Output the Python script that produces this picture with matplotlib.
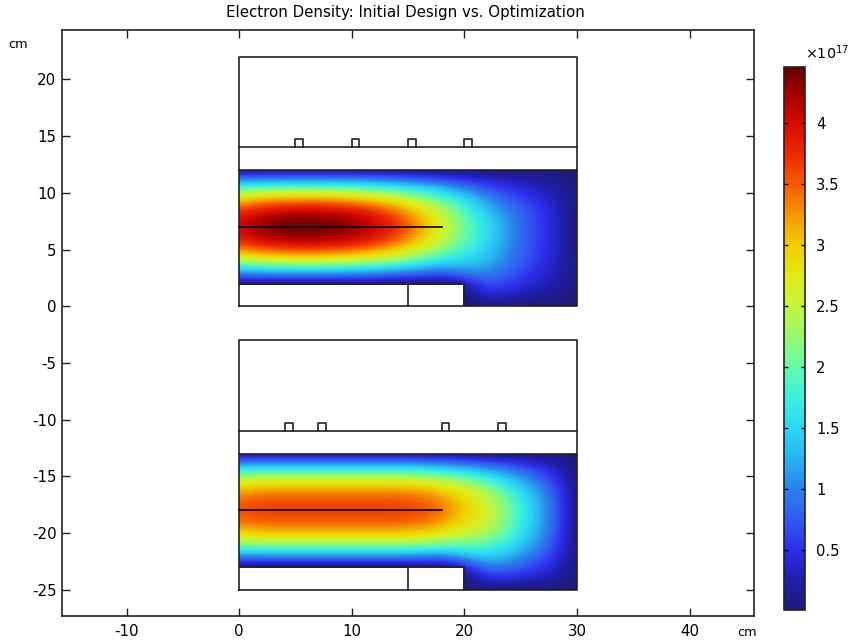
import numpy as np
import matplotlib
matplotlib.use("Agg")
import matplotlib.pyplot as plt
from matplotlib.colors import LinearSegmentedColormap, Normalize
from matplotlib.patches import Polygon

W, H = 852, 643

# tick labels
x_ticks = [-10, 0, 10, 20, 30, 40]
y_ticks = [-25, -20, -15, -10, -5, 0, 5, 10, 15, 20]
cbar_ticks = [0.5, 1, 1.5, 2, 2.5, 3, 3.5, 4]
cbar_labels = ['0.5', '1', '1.5', '2', '2.5', '3', '3.5', '4']

# colour scale
v_min, v_max = 0.008, 4.455
scale_vals = [0.008, 0.25, 0.5, 0.75, 1.0, 1.25, 1.5, 1.75, 2.0, 2.25, 2.5, 2.75,
              3.0, 3.25, 3.5, 3.75, 4.0, 4.25, 4.455]
scale_rgb = [(30, 25, 120), (30, 30, 170), (45, 45, 235), (50, 90, 240), (40, 130, 235),
             (40, 180, 240), (45, 215, 245), (60, 240, 220), (100, 250, 170), (150, 250, 110),
             (195, 245, 60), (225, 235, 20), (240, 205, 0), (245, 150, 0), (245, 90, 0),
             (235, 40, 0), (215, 10, 0), (160, 0, 0), (100, 0, 0)]

# density in 1e17, one row per x sample (0 to 30 cm, every 2 cm), from the top of the region down to the bottom
top_density = [
    [.03, 1.12, 2.38, 3.30, 3.86, 4.05, 3.86, 3.30, 2.38, 1.12, .03, .02, .02],
    [.03, 1.20, 2.55, 3.53, 4.13, 4.35, 4.13, 3.53, 2.55, 1.20, .03, .02, .02],
    [.03, 1.22, 2.60, 3.62, 4.26, 4.45, 4.26, 3.62, 2.60, 1.22, .03, .02, .02],
    [.03, 1.23, 2.62, 3.65, 4.28, 4.46, 4.28, 3.65, 2.62, 1.23, .03, .02, .02],
    [.03, 1.22, 2.60, 3.62, 4.26, 4.45, 4.26, 3.62, 2.60, 1.22, .03, .02, .02],
    [.03, 1.19, 2.52, 3.50, 4.13, 4.33, 4.13, 3.50, 2.52, 1.19, .03, .02, .02],
    [.03, 1.13, 2.38, 3.30, 3.92, 4.10, 3.92, 3.30, 2.38, 1.13, .03, .02, .02],
    [.03, 1.03, 2.18, 3.02, 3.58, 3.75, 3.58, 3.02, 2.18, 1.03, .03, .02, .02],
    [.02, .92, 1.90, 2.65, 3.10, 3.25, 3.10, 2.65, 1.90, .92, .02, .02, .02],
    [.02, .78, 1.60, 2.20, 2.55, 2.65, 2.55, 2.20, 1.60, .78, .02, .02, .02],
    [.02, .58, 1.25, 1.72, 1.97, 2.05, 2.00, 1.78, 1.48, 1.05, .20, .02, .02],
    [.02, .45, .85, 1.20, 1.45, 1.60, 1.55, 1.45, 1.30, 1.05, .78, .42, .02],
    [.02, .33, .62, .87, 1.00, 1.05, 1.05, 1.02, .95, .78, .58, .32, .02],
    [.02, .24, .43, .58, .66, .68, .68, .66, .60, .52, .40, .22, .02],
    [.02, .15, .27, .35, .39, .40, .40, .39, .35, .30, .24, .13, .02],
    [.02, .02, .02, .02, .02, .02, .02, .02, .02, .02, .02, .02, .02],
]
bottom_density = [
    [.03, 1.12, 2.24, 2.98, 3.42, 3.55, 3.42, 2.98, 2.24, 1.12, .03, .02, .02],
    [.03, 1.15, 2.30, 3.08, 3.52, 3.65, 3.52, 3.08, 2.30, 1.15, .03, .02, .02],
    [.03, 1.15, 2.30, 3.08, 3.52, 3.65, 3.52, 3.08, 2.30, 1.15, .03, .02, .02],
    [.03, 1.15, 2.30, 3.08, 3.52, 3.65, 3.52, 3.08, 2.30, 1.15, .03, .02, .02],
    [.03, 1.15, 2.30, 3.08, 3.52, 3.65, 3.52, 3.08, 2.30, 1.15, .03, .02, .02],
    [.03, 1.15, 2.30, 3.08, 3.52, 3.65, 3.52, 3.08, 2.30, 1.15, .03, .02, .02],
    [.03, 1.15, 2.30, 3.08, 3.52, 3.65, 3.52, 3.08, 2.30, 1.15, .03, .02, .02],
    [.03, 1.15, 2.30, 3.08, 3.52, 3.65, 3.52, 3.08, 2.30, 1.15, .03, .02, .02],
    [.03, 1.13, 2.27, 3.04, 3.47, 3.60, 3.47, 3.04, 2.27, 1.13, .03, .02, .02],
    [.03, 1.05, 2.10, 2.85, 3.27, 3.40, 3.27, 2.85, 2.10, 1.05, .02, .02, .02],
    [.02, .95, 1.90, 2.56, 2.90, 3.00, 2.90, 2.58, 2.08, 1.32, .40, .02, .02],
    [.02, .78, 1.58, 2.18, 2.55, 2.65, 2.60, 2.35, 2.00, 1.50, 1.00, .50, .02],
    [.02, .65, 1.25, 1.70, 1.97, 2.05, 2.03, 1.90, 1.65, 1.30, .90, .47, .02],
    [.02, .45, .88, 1.20, 1.40, 1.45, 1.44, 1.35, 1.18, .95, .65, .35, .02],
    [.02, .27, .50, .67, .76, .80, .80, .74, .66, .54, .38, .21, .02],
    [.02, .02, .02, .02, .02, .02, .02, .02, .02, .02, .02, .02, .02],
]

# geometry of each device, y measured from its own lower edge (cm)
panel_offsets = [0, -25]
top_slots = [5.33, 10.33, 15.33, 20.33]
bottom_slots = [4.45, 7.33, 18.33, 23.33]
line_end = 18

def draw_panel(ax, offset, density, slots, cmap, norm):
    """
    Draws one device: the density field clipped to the region and the outlines over it.
    """
    field = np.array(density).T
    region = Polygon([(0, offset + 2), (20, offset + 2), (20, offset), (30, offset),
                      (30, offset + 12), (0, offset + 12)],
                     closed=True, transform=ax.transData, fc='none', ec='none')
    ax.add_patch(region)
    im = ax.imshow(field, extent=(-1, 31, offset - 0.5, offset + 12.5), aspect='auto',
                   cmap=cmap, norm=norm, interpolation='bicubic', zorder=1)
    im.set_clip_path(region)

    # outlines
    c = '#222222'
    kw = dict(color=c, lw=1.2, solid_joinstyle='round', zorder=3)
    ax.plot([0, 30, 30, 20, 20, 0, 0], [offset + 12, offset + 12, offset, offset, offset + 2, offset + 2, offset + 12], **kw)
    ax.plot([0, 20, 20, 0, 0], [offset, offset, offset + 2, offset + 2, offset], **kw)
    ax.plot([15, 15], [offset, offset + 2], **kw)
    ax.plot([0, line_end], [offset + 7, offset + 7], color='black', lw=1.2, zorder=3)
    ax.plot([0, 30, 30, 0, 0], [offset + 14, offset + 14, offset + 22, offset + 22, offset + 14], **kw)
    ax.plot([0, 0], [offset + 12, offset + 14], **kw)
    ax.plot([30, 30], [offset + 12, offset + 14], **kw)
    for s in slots:
        ax.plot([s - 0.35, s - 0.35, s + 0.35, s + 0.35],
                [offset + 14, offset + 14.73, offset + 14.73, offset + 14], **kw)
    return im


plt.rcParams['font.family'] = 'DejaVu Sans'
plt.rcParams['axes.unicode_minus'] = False
plt.rcParams['font.size'] = 10.8

fig = plt.figure(figsize=(W / 100, H / 100), dpi=100)
ax = fig.add_axes([62 / W, 1 - 616 / H, (754 - 62) / W, (616 - 30) / H])

cmap = LinearSegmentedColormap.from_list(
    'comsol', [((v - v_min) / (v_max - v_min), tuple(ch / 255 for ch in rgb))
               for v, rgb in zip(scale_vals, scale_rgb)], N=512)
norm = Normalize(v_min, v_max)

im = draw_panel(ax, panel_offsets[0], top_density, top_slots, cmap, norm)
draw_panel(ax, panel_offsets[1], bottom_density, bottom_slots, cmap, norm)

ax.set_xlim(-15.73, 45.72)
ax.set_ylim(-27.31, 24.36)
ax.set_xticks(x_ticks)
ax.set_yticks(y_ticks)
ax.tick_params(axis='x', direction='in', length=5.8, width=1.0, top=True, color='#222222', pad=6)
ax.tick_params(axis='y', direction='in', length=5.8, width=1.0, right=True, color='#222222', pad=4)
for spine in ax.spines.values():
    spine.set_linewidth(1.2)
    spine.set_color('#222222')

fig.text(405 / W, 1 - 13 / H, 'Electron Density: Initial Design vs. Optimization', ha='center', va='center')
fig.text(18 / W, 1 - 44 / H, 'cm', ha='center', va='center', fontsize=9.3)
fig.text(747 / W, 1 - 633 / H, 'cm', ha='center', va='center', fontsize=9.3)

# colorbar
cax = fig.add_axes([784 / W, 1 - 610 / H, 21 / W, (610 - 67) / H])
cbar = fig.colorbar(im, cax=cax)
cbar.set_ticks(cbar_ticks)
cbar.set_ticklabels(cbar_labels)
cax.tick_params(direction='in', length=3, width=1.0, left=True, right=True, color='black', pad=8, labelsize=10.6)
cbar.outline.set_linewidth(1.2)
cbar.outline.set_edgecolor('#222222')
fig.text(805 / W, 1 - 53 / H, '×10$^{17}$', ha='left', va='center', fontsize=10.3)

fig.savefig('out.png', dpi=100)
